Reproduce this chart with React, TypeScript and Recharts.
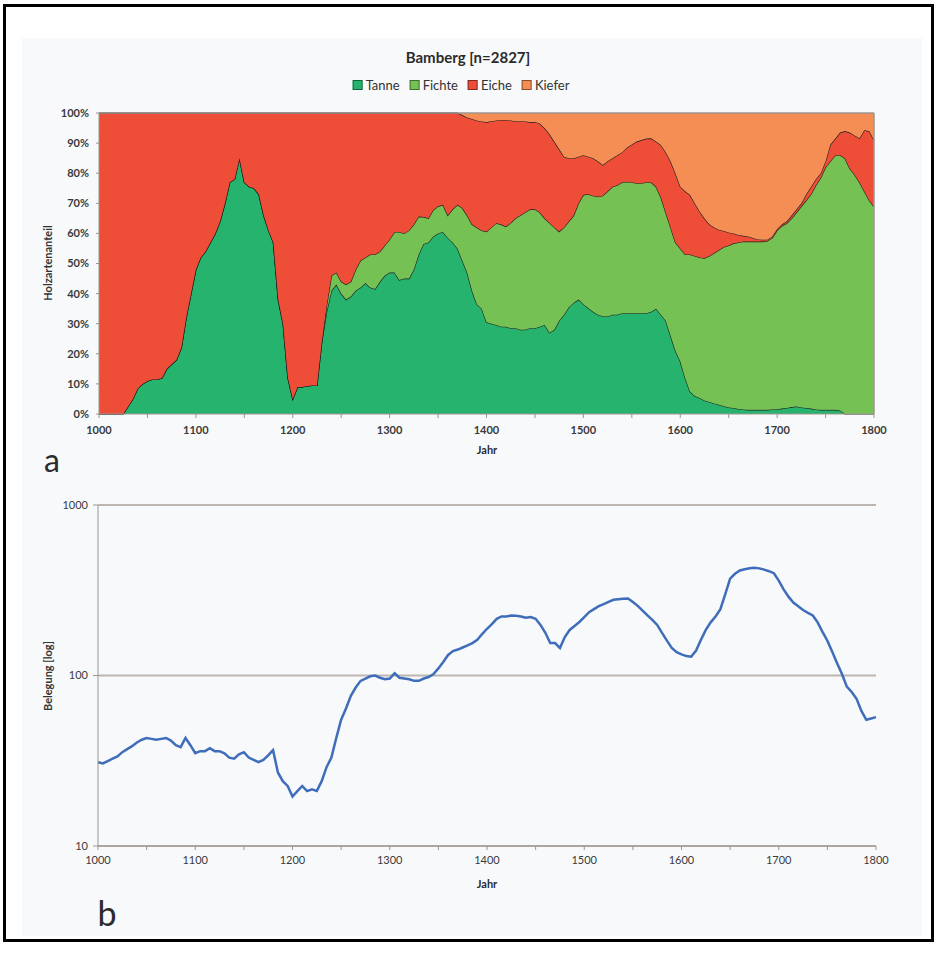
import { AreaChart, Area, LineChart, Line, XAxis, YAxis, CartesianGrid, ReferenceLine } from 'recharts';

// Jahre, 5er-Schritte
const years = [
  1000, 1005, 1010, 1015, 1020, 1025, 1030, 1035, 1040, 1045,
  1050, 1055, 1060, 1065, 1070, 1075, 1080, 1085, 1090, 1095,
  1100, 1105, 1110, 1115, 1120, 1125, 1130, 1135, 1140, 1145,
  1150, 1155, 1160, 1165, 1170, 1175, 1180, 1185, 1190, 1195,
  1200, 1205, 1210, 1215, 1220, 1225, 1230, 1235, 1240, 1245,
  1250, 1255, 1260, 1265, 1270, 1275, 1280, 1285, 1290, 1295,
  1300, 1305, 1310, 1315, 1320, 1325, 1330, 1335, 1340, 1345,
  1350, 1355, 1360, 1365, 1370, 1375, 1380, 1385, 1390, 1395,
  1400, 1405, 1410, 1415, 1420, 1425, 1430, 1435, 1440, 1445,
  1450, 1455, 1460, 1465, 1470, 1475, 1480, 1485, 1490, 1495,
  1500, 1505, 1510, 1515, 1520, 1525, 1530, 1535, 1540, 1545,
  1550, 1555, 1560, 1565, 1570, 1575, 1580, 1585, 1590, 1595,
  1600, 1605, 1610, 1615, 1620, 1625, 1630, 1635, 1640, 1645,
  1650, 1655, 1660, 1665, 1670, 1675, 1680, 1685, 1690, 1695,
  1700, 1705, 1710, 1715, 1720, 1725, 1730, 1735, 1740, 1745,
  1750, 1755, 1760, 1765, 1770, 1775, 1780, 1785, 1790, 1795,
  1800,
];

// Holzartenanteil in %
const tanne = [
  0, 0, 0, 0, 0, 0, 2.5, 5, 8.5, 10,
  11, 11.5, 11.5, 12, 15, 16.5, 18, 22, 32, 40,
  48, 52, 54, 57, 60, 64, 70, 77, 78, 85,
  77, 75.5, 75, 73, 66, 61, 57, 38, 30, 12,
  5, 9, 9, 9.3, 9.5, 9.5, 24, 34, 41, 43,
  40, 38, 39, 41, 42, 43.5, 42, 41.5, 44, 46,
  47, 47, 44.5, 45, 45, 48, 53, 56.5, 57, 59,
  60, 60.5, 58.5, 57, 55, 51, 47, 41, 36.5, 35,
  30.5, 30, 29.6, 29, 29, 28.5, 28.5, 28, 28, 28.5,
  28.5, 29, 29.6, 27, 28, 31, 33, 35.5, 37, 38,
  36.5, 35.2, 34, 33, 32.5, 32.4, 33, 33, 33.5, 33.5,
  33.5, 33.5, 33.5, 33.5, 34, 35, 33, 31, 26, 21,
  17.5, 12, 7.5, 6, 5.3, 4.5, 4, 3.5, 3.1, 2.6,
  2.2, 2, 1.7, 1.5, 1.4, 1.4, 1.4, 1.4, 1.4, 1.5,
  1.6, 1.8, 2, 2.3, 2.5, 2.2, 2, 1.8, 1.5, 1.4,
  1.4, 1.4, 1.4, 1.2, 0, 0, 0, 0, 0, 0,
  0,
];

const fichte = [
  0, 0, 0, 0, 0, 0, 0, 0, 0, 0,
  0, 0, 0, 0, 0, 0, 0, 0, 0, 0,
  0, 0, 0, 0, 0, 0, 0, 0, 0, 0,
  0, 0, 0, 0, 0, 0, 0, 0, 0, 0,
  0, 0, 0, 0, 0, 0, 0, 2, 5, 4,
  4, 5, 5, 7, 9, 8.5, 11, 11.5, 10, 10,
  11, 13.5, 16, 15, 16, 15, 12.6, 9, 8, 8.8,
  9, 9, 7.5, 11, 14.5, 17.4, 19, 22, 25.5, 26,
  30.1, 32, 33.8, 34, 33.3, 35, 36.5, 38, 39, 39.5,
  39.5, 38, 35.4, 36.5, 34, 29.6, 29, 28.5, 29, 32,
  36.3, 37.8, 38.5, 39.2, 40, 41.6, 42.5, 43, 43.5, 43.7,
  43.5, 43.2, 43.2, 43.5, 43, 40.5, 39, 36, 36, 36,
  37.5, 41, 45.5, 46.5, 46.7, 47.3, 48.5, 50, 51.4, 52.9,
  53.8, 54.7, 55.3, 55.8, 55.9, 55.9, 55.9, 55.9, 56.1, 57,
  59.4, 60.7, 61.4, 62.7, 64.5, 66.8, 69, 71.2, 74.5, 77.1,
  80.6, 82.6, 84.6, 84.8, 85, 81.6, 79.5, 77, 74, 71,
  68.9,
];

const eiche = [
  100, 100, 100, 100, 100, 100, 97.5, 95, 91.5, 90,
  89, 88.5, 88.5, 88, 85, 83.5, 82, 78, 68, 60,
  52, 48, 46, 43, 40, 36, 30, 23, 22, 15,
  23, 24.5, 25, 27, 34, 39, 43, 62, 70, 88,
  95, 91, 91, 90.7, 90.5, 90.5, 76, 64, 54, 53,
  56, 57, 56, 52, 49, 48, 47, 47, 46, 44,
  42, 39.5, 39.5, 40, 39, 37, 34.4, 34.5, 35, 32.2,
  31, 30.5, 34, 32, 30.5, 30.9, 32.5, 35, 35.5, 36.2,
  36.4, 35.3, 34.1, 34.7, 35.4, 34, 32.3, 31.3, 30.2, 29,
  29, 29.5, 30, 29.5, 28.5, 27.4, 23.5, 21, 19, 15.5,
  13.2, 12.5, 12.5, 11.8, 10.2, 10, 9.5, 10, 10, 11.3,
  12.5, 13.8, 14.3, 14.5, 14.6, 15, 17.4, 20, 22, 23,
  20.6, 21, 19.8, 17.5, 15.3, 13.2, 10.5, 8.5, 6.7, 5.3,
  4.3, 3.3, 2.5, 1.9, 1.7, 1.2, 0.7, 0.6, 0.4, 0.5,
  0.5, 0.5, 0.6, 1, 1, 1, 2, 2.5, 2, 1.5,
  2, 5.5, 5.5, 7.5, 9, 11.9, 13, 14.6, 20.3, 23,
  22.1,
];

const kiefer = [
  0, 0, 0, 0, 0, 0, 0, 0, 0, 0,
  0, 0, 0, 0, 0, 0, 0, 0, 0, 0,
  0, 0, 0, 0, 0, 0, 0, 0, 0, 0,
  0, 0, 0, 0, 0, 0, 0, 0, 0, 0,
  0, 0, 0, 0, 0, 0, 0, 0, 0, 0,
  0, 0, 0, 0, 0, 0, 0, 0, 0, 0,
  0, 0, 0, 0, 0, 0, 0, 0, 0, 0,
  0, 0, 0, 0, 0, 0.7, 1.5, 2, 2.5, 2.8,
  3, 2.7, 2.5, 2.3, 2.3, 2.5, 2.7, 2.7, 2.8, 3,
  3, 3.5, 5, 7, 9.5, 12, 14.5, 15, 15, 14.5,
  14, 14.5, 15, 16, 17.3, 16, 15, 14, 13, 11.5,
  10.5, 9.5, 9, 8.5, 8.4, 9.5, 10.6, 13, 16, 20,
  24.4, 26, 27.2, 30, 32.7, 35, 37, 38, 38.8, 39.2,
  39.7, 40, 40.5, 40.8, 41, 41.5, 42, 42.1, 42.1, 41,
  38.5, 37, 36, 34, 32, 30, 27, 24.5, 22, 20,
  16, 10.5, 8.5, 6.5, 6, 6.5, 7.5, 8.4, 5.7, 6,
  9,
];

// Belegung (Anzahl Proben)
const belegung = [
  31, 30.5, 31.5, 32.5, 33.5, 35.5, 37, 38.5, 40.5, 42,
  43, 42.5, 42, 42.5, 43, 41.5, 39, 38, 43, 39,
  35, 36, 36, 37.5, 36, 36, 35, 33, 32.5, 34.5,
  35.5, 33, 32, 31, 32, 34, 36.5, 27, 24, 22.5,
  19.5, 21, 22.5, 21, 21.5, 21, 24, 29, 33, 43,
  55, 64, 76, 85, 93, 96, 99, 100, 97, 95,
  96, 103, 97, 96, 95, 93, 93, 96, 98, 102,
  110, 120, 132, 139, 142, 146, 150, 155, 162, 175,
  188, 200, 215, 222, 222, 225, 224, 222, 218, 220,
  215, 198, 178, 155, 155, 145, 168, 185, 195, 206,
  220, 235, 245, 255, 262, 270, 278, 280, 282, 283,
  270, 256, 240, 225, 212, 198, 178, 160, 145, 137,
  133, 130, 129, 140, 162, 185, 205, 222, 245, 300,
  370, 395, 413, 420, 425, 428, 425, 418, 409, 398,
  360, 320, 290, 268, 255, 242, 233, 225, 205, 180,
  160, 138, 118, 102, 86, 80, 73, 62, 55, 56,
  57,
];

const yearTicks = [1000, 1050, 1100, 1150, 1200, 1250, 1300, 1350, 1400, 1450, 1500, 1550, 1600, 1650, 1700, 1750, 1800];
const pctTicks = [0, 10, 20, 30, 40, 50, 60, 70, 80, 90, 100];
const logTicks = [10, 100, 1000];

const SERIES = [
  { key: 'Tanne', color: '#26b36e' },
  { key: 'Fichte', color: '#76c154' },
  { key: 'Eiche', color: '#ee4e37' },
  { key: 'Kiefer', color: '#f58e54' },
];

const FONT = 'Lato, "Open Sans", sans-serif';
const AXIS = '#9e9590';

const shares = years.map((year, i) => ({
  year,
  Tanne: tanne[i],
  Fichte: fichte[i],
  Eiche: eiche[i],
  Kiefer: kiefer[i],
}));

const counts = years.map((year, i) => ({ year, n: belegung[i] }));

const yearLabel = (v: number) => (v % 100 === 0 ? String(v) : '');

function RotLabel({ text, x, y }: { text: string; x: number; y: number }) {
  return (
    <div
      style={{
        position: 'absolute',
        left: x,
        top: y,
        transform: 'translate(-50%, -50%) rotate(-90deg)',
        whiteSpace: 'nowrap',
        fontSize: 11,
        fontWeight: 700,
        color: '#333',
      }}
    >
      {text}
    </div>
  );
}

function CenterText({ text, x, y, size, weight }: { text: string; x: number; y: number; size: number; weight: number }) {
  return (
    <div
      style={{
        position: 'absolute',
        left: x,
        top: y,
        transform: 'translate(-50%, -50%)',
        whiteSpace: 'nowrap',
        fontSize: size,
        fontWeight: weight,
        color: '#2b2b2b',
        lineHeight: 1,
      }}
    >
      {text}
    </div>
  );
}

export default function App() {
  return (
    <div style={{ position: 'absolute', left: 0, top: 0, width: 937, height: 959, background: '#fff', fontFamily: FONT }}>
      <div style={{ position: 'absolute', left: 3, top: 4, width: 925, height: 932, border: '3px solid #000' }} />
      <div style={{ position: 'absolute', left: 22, top: 38, width: 900, height: 898, background: '#f7f9fb' }} />

      <CenterText text="Bamberg [n=2827]" x={468} y={57} size={15} weight={700} />
      <div
        style={{
          position: 'absolute',
          left: 466,
          top: 85,
          transform: 'translate(-50%, -50%)',
          display: 'flex',
          alignItems: 'center',
          fontSize: 13,
          color: '#333',
          whiteSpace: 'nowrap',
        }}
      >
        {SERIES.map((s) => (
          <span key={s.key} style={{ display: 'flex', alignItems: 'center', marginRight: 10 }}>
            <span style={{ width: 8, height: 8, background: s.color, border: '1px solid rgba(0,0,0,0.45)', marginRight: 3 }} />
            {s.key}
          </span>
        ))}
      </div>

      <div style={{ position: 'absolute', left: 0, top: 0 }}>
        <AreaChart width={937} height={480} data={shares} margin={{ top: 113, right: 63, bottom: 36, left: 49 }}>
          <XAxis
            dataKey="year"
            type="number"
            domain={[1000, 1800]}
            ticks={yearTicks}
            interval={0}
            tickFormatter={yearLabel}
            height={30}
            tickSize={4}
            tickMargin={8}
            stroke={AXIS}
            tick={{ fill: '#3a3a3a', fontSize: 11, fontWeight: 700, fontFamily: FONT }}
          />
          <YAxis
            type="number"
            domain={[0, 100]}
            ticks={pctTicks}
            interval={0}
            tickFormatter={(v: number) => `${v}%`}
            width={50}
            tickSize={3}
            tickMargin={7}
            stroke={AXIS}
            tick={{ fill: '#3a3a3a', fontSize: 11, fontWeight: 700, fontFamily: FONT }}
          />
          {SERIES.map((s) => (
            <Area
              key={s.key}
              type="linear"
              dataKey={s.key}
              stackId="1"
              fill={s.color}
              fillOpacity={1}
              stroke={s.key === 'Kiefer' ? 'none' : '#1c1c1c'}
              strokeWidth={1.2}
              isAnimationActive={false}
            />
          ))}
          <ReferenceLine y={100} stroke={AXIS} strokeWidth={1.5} />
          <ReferenceLine x={1800} stroke={AXIS} strokeWidth={1.5} />
        </AreaChart>
      </div>
      <RotLabel text="Holzartenanteil" x={47} y={263} />
      <CenterText text="Jahr" x={487} y={449} size={11} weight={700} />
      <CenterText text="a" x={52} y={460} size={32} weight={400} />

      <div style={{ position: 'absolute', left: 0, top: 480 }}>
        <LineChart width={937} height={480} data={counts} margin={{ top: 25, right: 61, bottom: 84, left: 48 }}>
          <CartesianGrid vertical={false} stroke="#bdb5b0" strokeWidth={2} />
          <XAxis
            dataKey="year"
            type="number"
            domain={[1000, 1800]}
            ticks={yearTicks}
            interval={0}
            tickFormatter={yearLabel}
            height={30}
            tickSize={4}
            tickMargin={6}
            stroke={AXIS}
            tick={{ fill: '#3a3a3a', fontSize: 11, fontFamily: FONT }}
          />
          <YAxis
            type="number"
            scale="log"
            domain={[10, 1000]}
            ticks={logTicks}
            interval={0}
            allowDataOverflow
            width={50}
            tickSize={5}
            tickMargin={5}
            stroke={AXIS}
            tick={{ fill: '#3a3a3a', fontSize: 11, fontFamily: FONT }}
          />
          <Line type="linear" dataKey="n" stroke="#3f6db9" strokeWidth={2.5} dot={false} isAnimationActive={false} />
        </LineChart>
      </div>
      <RotLabel text="Belegung [log]" x={47} y={676} />
      <CenterText text="Jahr" x={487} y={883} size={11} weight={700} />
      <CenterText text="b" x={107} y={913} size={34} weight={400} />
    </div>
  );
}
